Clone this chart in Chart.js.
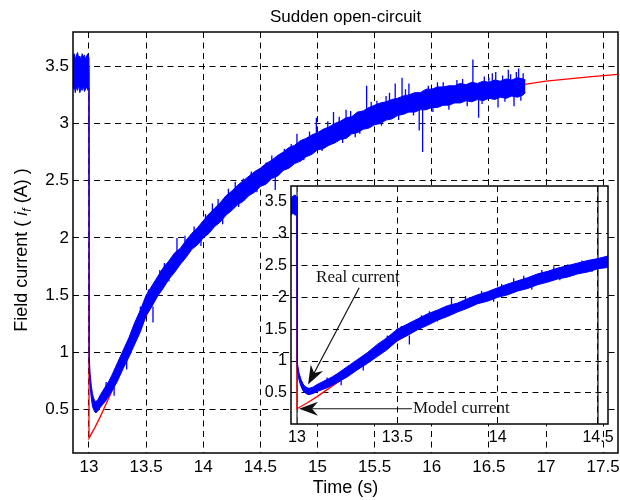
<!DOCTYPE html>
<html>
<head>
<meta charset="utf-8">
<script src="https://cdn.jsdelivr.net/npm/chart.js@4.4.1/dist/chart.umd.min.js"></script>
<style>
  html, body { margin: 0; padding: 0; background: #fff; }
  #wrap { position: relative; width: 620px; height: 500px; }
  #mainChart { position: absolute; left: 0; top: 0; }
  #insetChart { position: absolute; left: 240px; top: 180px; }
</style>
</head>
<body>
<div id="wrap">
  <canvas id="mainChart" width="620" height="500"></canvas>
  <canvas id="insetChart" width="378" height="270"></canvas>
</div>
<script>
// measured field current: upper / lower edge of the noisy band (A)
const realTime = [
  12.86, 12.87, 12.88, 12.89, 12.90, 12.91, 12.92, 12.93, 12.94, 12.95, 12.96, 12.97, 12.98, 12.99, 13.00,
  13.002, 13.01, 13.02, 13.03, 13.04, 13.05, 13.06, 13.07, 13.08, 13.10, 13.125, 13.15, 13.175, 13.20,
  13.25, 13.30, 13.35, 13.40, 13.45, 13.50, 13.55, 13.60, 13.65, 13.70, 13.75, 13.80, 13.85, 13.90, 13.95,
  14.00, 14.05, 14.10, 14.15, 14.20, 14.25, 14.30, 14.35, 14.40, 14.45, 14.50, 14.55, 14.60, 14.65, 14.70, 14.75, 14.80, 14.85, 14.90, 14.95,
  15.00, 15.05, 15.10, 15.15, 15.20, 15.25, 15.30, 15.35, 15.40, 15.45, 15.50, 15.55, 15.60, 15.65, 15.70, 15.75, 15.80, 15.85, 15.90, 15.95,
  16.00, 16.05, 16.10, 16.15, 16.20, 16.25, 16.30, 16.35, 16.40, 16.45, 16.50, 16.55, 16.60, 16.65, 16.70, 16.75, 16.80, 16.82
];
const realUpper = [
  3.58, 3.61, 3.56, 3.60, 3.62, 3.57, 3.59, 3.55, 3.61, 3.58, 3.60, 3.56, 3.59, 3.61, 3.57,
  0.96, 0.81, 0.71, 0.64, 0.60, 0.58, 0.57, 0.58, 0.59, 0.63, 0.67, 0.71, 0.75, 0.80,
  0.91, 1.02, 1.13, 1.26, 1.37, 1.50, 1.58, 1.66, 1.74, 1.80, 1.87, 1.91, 1.98, 2.04, 2.09,
  2.15, 2.21, 2.26, 2.31, 2.37, 2.41, 2.46, 2.50, 2.54, 2.58, 2.61, 2.65, 2.68, 2.72, 2.75, 2.79, 2.81, 2.85, 2.87, 2.90,
  2.92, 2.95, 2.97, 3.00, 3.02, 3.05, 3.06, 3.10, 3.11, 3.14, 3.16, 3.18, 3.19, 3.21, 3.22, 3.24, 3.25, 3.27, 3.27, 3.30,
  3.30, 3.32, 3.32, 3.33, 3.33, 3.35, 3.34, 3.36, 3.35, 3.37, 3.36, 3.38, 3.37, 3.39, 3.38, 3.40, 3.39, 3.38
];
const realLower = [
  3.30, 3.33, 3.27, 3.32, 3.29, 3.34, 3.27, 3.31, 3.29, 3.33, 3.28, 3.30, 3.32, 3.29, 3.31,
  0.86, 0.70, 0.60, 0.53, 0.50, 0.48, 0.47, 0.48, 0.49, 0.52, 0.55, 0.58, 0.62, 0.66,
  0.75, 0.86, 0.96, 1.07, 1.18, 1.32, 1.40, 1.49, 1.56, 1.64, 1.70, 1.77, 1.83, 1.90, 1.94,
  2.00, 2.04, 2.10, 2.14, 2.20, 2.24, 2.29, 2.32, 2.37, 2.40, 2.45, 2.47, 2.52, 2.54, 2.59, 2.61, 2.65, 2.67, 2.71, 2.73,
  2.77, 2.78, 2.81, 2.83, 2.86, 2.87, 2.91, 2.92, 2.95, 2.96, 2.99, 3.00, 3.03, 3.04, 3.07, 3.08, 3.10, 3.10, 3.12, 3.12,
  3.14, 3.14, 3.16, 3.16, 3.18, 3.18, 3.20, 3.19, 3.21, 3.20, 3.22, 3.21, 3.23, 3.22, 3.24, 3.23, 3.25, 3.27
];

// large isolated spikes in the measurement
const spikeTime = [13.45, 13.56, 13.62, 13.77, 13.92, 14.08, 14.22, 14.35, 14.55, 14.63, 14.71, 14.82, 14.99, 15.09, 15.14, 15.25, 15.33, 15.43, 15.52, 15.60, 15.68, 15.74, 15.80, 15.89, 15.92, 16.05, 16.22, 16.36, 16.41, 16.46, 16.53, 16.58, 16.62, 16.67, 16.72, 16.76, 16.80];
const spikeBase = [1.30, 1.40, 1.62, 1.80, 1.98, 2.18, 2.30, 2.42, 2.56, 2.58, 2.68, 2.74, 2.86, 2.90, 2.92, 2.97, 3.00, 3.05, 3.08, 3.11, 3.13, 3.15, 3.17, 3.19, 3.19, 3.22, 3.25, 3.27, 3.27, 3.29, 3.29, 3.30, 3.30, 3.31, 3.31, 3.32, 3.32];
const spikeTip  = [1.40, 1.26, 1.72, 2.00, 2.10, 2.30, 2.43, 2.52, 2.66, 2.42, 2.78, 2.91, 3.05, 3.02, 3.10, 3.12, 2.88, 3.33, 3.20, 3.24, 3.35, 3.40, 3.35, 2.94, 2.75, 3.36, 3.38, 3.56, 3.05, 3.41, 3.44, 3.14, 3.42, 3.47, 3.15, 3.48, 3.44];

// small noise excursions past the band edges
const noiseTime = [13.15, 13.22, 13.28, 13.33, 13.38, 13.52, 13.66, 13.70, 13.84, 13.98, 14.02, 14.13, 14.17, 14.28, 14.31, 14.42, 14.47, 14.60, 14.66, 14.77, 14.88, 14.93, 15.04, 15.19, 15.22, 15.29, 15.37, 15.47, 15.56, 15.63, 15.71, 15.77, 15.84, 15.97, 16.01, 16.10, 16.15, 16.27, 16.31, 16.44, 16.50, 16.56, 16.64, 16.69, 16.74, 16.78];
const noiseBase = [0.65, 0.72, 0.85, 0.93, 1.05, 1.42, 1.66, 1.72, 1.90, 2.05, 2.08, 2.20, 2.23, 2.36, 2.38, 2.46, 2.50, 2.60, 2.63, 2.70, 2.78, 2.80, 2.86, 2.93, 2.94, 2.98, 3.02, 3.05, 3.09, 3.12, 3.14, 3.16, 3.18, 3.21, 3.22, 3.24, 3.24, 3.26, 3.27, 3.28, 3.29, 3.29, 3.30, 3.31, 3.31, 3.32];
const noiseTip  = [0.74, 0.62, 0.96, 0.85, 1.17, 1.55, 1.78, 1.62, 2.02, 1.93, 2.21, 2.34, 2.12, 2.49, 2.27, 2.58, 2.40, 2.72, 2.55, 2.82, 2.68, 2.93, 2.76, 3.06, 2.83, 3.11, 2.91, 3.19, 2.98, 3.27, 3.03, 3.30, 3.07, 3.33, 3.10, 3.36, 3.12, 3.39, 3.15, 3.17, 3.40, 3.45, 3.19, 3.43, 3.45, 3.20];

// model field current (A)
const modelTime = [12.86, 13.0, 13.0, 13.05, 13.1, 13.15, 13.2, 13.3, 13.4, 13.5, 13.6, 13.7, 13.8, 13.9, 14.0, 14.2, 14.4, 14.6, 14.8, 15.0, 15.2, 15.4, 15.6, 15.8, 16.0, 16.2, 16.4, 16.6, 16.8, 17.0, 17.2, 17.4, 17.63];
const modelCurrent = [3.50, 3.50, 0.25, 0.34, 0.44, 0.55, 0.66, 0.88, 1.10, 1.32, 1.50, 1.66, 1.80, 1.93, 2.04, 2.24, 2.42, 2.57, 2.70, 2.81, 2.91, 2.99, 3.06, 3.13, 3.18, 3.23, 3.27, 3.30, 3.34, 3.37, 3.39, 3.41, 3.43];

// axes
const mainXTicks = [13, 13.5, 14, 14.5, 15, 15.5, 16, 16.5, 17, 17.5];
const mainYTicks = [0.5, 1, 1.5, 2, 2.5, 3, 3.5];
const insetXTicks = [13, 13.5, 14, 14.5];
const insetYTicks = [0.5, 1, 1.5, 2, 2.5, 3, 3.5];
const mainXRange = [12.86, 17.63];
const mainYRange = [0.12, 3.8];
const insetXRange = [12.97, 14.55];
const insetYRange = [0.01, 3.75];
const insetMarkTime = [13, 14.5];

const sans = "'Liberation Sans', Arial, Helvetica, sans-serif";
const serif = "'Liberation Serif', 'Times New Roman', serif";

const pts = (xs, ys) => xs.map((x, i) => ({ x: x, y: ys[i] }));
const segments = (ts, from, to) => ts.flatMap((t, i) => [{ x: t, y: from[i] }, { x: t, y: to[i] }, { x: t, y: null }]);

function signalDatasets() {
    return [
        { label: 'Real current (upper)', data: pts(realTime, realUpper), borderColor: '#0000ff', borderWidth: 1, pointRadius: 0, fill: false },
        { label: 'Real current (lower)', data: pts(realTime, realLower), borderColor: '#0000ff', borderWidth: 1, pointRadius: 0, fill: '-1', backgroundColor: '#0000ff' },
        { label: 'Real current spikes', data: segments(spikeTime, spikeBase, spikeTip), borderColor: '#0000ff', borderWidth: 1.3, pointRadius: 0, fill: false },
        { label: 'Real current noise', data: segments(noiseTime, noiseBase, noiseTip), borderColor: '#0000ff', borderWidth: 1.3, pointRadius: 0, fill: false },
        { label: 'Model current', data: pts(modelTime, modelCurrent), borderColor: '#ff0000', borderWidth: 1.3, pointRadius: 0, fill: false }
    ];
}

function fixedTicks(values) {
    return scale => { scale.ticks = values.map(v => ({ value: v })); };
}

function axisOptions(range, ticks, fontSize, fit, extra) {
    return Object.assign({
        type: 'linear',
        min: range[0],
        max: range[1],
        afterBuildTicks: fixedTicks(ticks),
        afterFit: fit,
        grid: { color: '#000', lineWidth: 1, drawTicks: false },
        border: { display: false, dash: [6, 4.5] },
        ticks: { color: '#000', font: { family: sans, size: fontSize }, padding: 4, autoSkip: false, maxRotation: 0, callback: v => String(v) }
    }, extra || {});
}

// black box round the plot area
const boxPlugin = {
    id: 'box',
    afterDraw(chart) {
        const a = chart.chartArea, ctx = chart.ctx;
        ctx.save();
        ctx.strokeStyle = '#000';
        ctx.lineWidth = 1.5;
        ctx.strokeRect(a.left, a.top, a.right - a.left, a.bottom - a.top);
        ctx.restore();
    }
};

// y label with subscript
const yLabelPlugin = {
    id: 'yLabel',
    afterDraw(chart) {
        const ctx = chart.ctx;
        const parts = [
            ['Field current ( ', '18px ' + sans, 0],
            ['i', 'italic 18px ' + sans, 0],
            ['f', 'italic 12px ' + sans, 4],
            [' (A) )', '18px ' + sans, 0]
        ];
        ctx.save();
        let total = 0;
        parts.forEach(p => { ctx.font = p[1]; p.push(ctx.measureText(p[0]).width); total += p[3]; });
        ctx.translate(27, 250);
        ctx.rotate(-Math.PI / 2);
        ctx.fillStyle = '#000';
        ctx.textBaseline = 'alphabetic';
        let x = -total / 2;
        parts.forEach(p => { ctx.font = p[1]; ctx.fillText(p[0], x, p[2]); x += p[3]; });
        ctx.restore();
    }
};

// white plot area for the inset
const insetBackground = {
    id: 'insetBg',
    beforeDraw(chart) {
        const a = chart.chartArea, ctx = chart.ctx;
        ctx.save();
        ctx.fillStyle = '#fff';
        ctx.fillRect(a.left, a.top, a.right - a.left, a.bottom - a.top);
        ctx.restore();
    }
};

// text arrows in the inset
const insetNotes = [
    { text: 'Real current', at: [13.095, 2.31], from: [13.31, 2.15], to: [13.055, 0.63] },
    { text: 'Model current', at: [13.578, 0.25], from: [13.573, 0.25], to: [13.01, 0.25] }
];

function drawArrow(ctx, x1, y1, x2, y2) {
    const ang = Math.atan2(y2 - y1, x2 - x1);
    const len = 19, half = 7, notch = 6;
    const dx = Math.cos(ang), dy = Math.sin(ang);
    const bx = x2 - len * dx, by = y2 - len * dy;
    const nx = x2 - (len - notch) * dx, ny = y2 - (len - notch) * dy;
    ctx.beginPath();
    ctx.moveTo(x1, y1);
    ctx.lineTo(nx, ny);
    ctx.stroke();
    ctx.beginPath();
    ctx.moveTo(x2, y2);
    ctx.lineTo(bx - half * dy, by + half * dx);
    ctx.lineTo(nx, ny);
    ctx.lineTo(bx + half * dy, by - half * dx);
    ctx.closePath();
    ctx.fill();
}

const notesPlugin = {
    id: 'notes',
    afterDatasetsDraw(chart) {
        const ctx = chart.ctx, sx = chart.scales.x, sy = chart.scales.y;
        ctx.save();
        ctx.fillStyle = '#111';
        ctx.strokeStyle = '#111';
        ctx.lineWidth = 1.2;
        ctx.font = '17px ' + serif;
        ctx.textBaseline = 'middle';
        insetNotes.forEach(n => {
            ctx.fillText(n.text, sx.getPixelForValue(n.at[0]), sy.getPixelForValue(n.at[1]));
            drawArrow(ctx, sx.getPixelForValue(n.from[0]), sy.getPixelForValue(n.from[1]),
                sx.getPixelForValue(n.to[0]), sy.getPixelForValue(n.to[1]));
        });
        ctx.restore();
    }
};

const common = {
    responsive: false,
    animation: false,
    events: [],
    plugins: { legend: { display: false }, tooltip: { enabled: false } }
};

new Chart(document.getElementById('mainChart'), {
    type: 'line',
    data: { datasets: signalDatasets() },
    options: Object.assign({}, common, {
        layout: { padding: { left: 0, right: 2, top: 0, bottom: 0 } },
        plugins: {
            legend: { display: false },
            tooltip: { enabled: false },
            title: {
                display: true, text: 'Sudden open-circuit', fullSize: false, color: '#000',
                font: { family: sans, size: 17, weight: 'normal' }, padding: { top: 7, bottom: 4.6 }
            }
        },
        scales: {
            x: axisOptions(mainXRange, mainXTicks, 17, s => { s.height = 47; s.paddingLeft = 0; s.paddingRight = 0; }, {
                title: { display: true, text: 'Time (s)', color: '#000', font: { family: sans, size: 18 }, padding: { top: 0, bottom: 1 } }
            }),
            y: axisOptions(mainYRange, mainYTicks, 17, s => { s.width = 73; s.paddingTop = 0; s.paddingBottom = 0; })
        }
    }),
    plugins: [boxPlugin, yLabelPlugin]
});

const insetDatasets = signalDatasets().concat([
    { label: 'Step instant', data: [{ x: insetMarkTime[0], y: insetYRange[0] }, { x: insetMarkTime[0], y: insetYRange[1] }], borderColor: '#555', borderWidth: 1.6, pointRadius: 0, fill: false },
    { label: 'Window end', data: [{ x: insetMarkTime[1], y: insetYRange[0] }, { x: insetMarkTime[1], y: insetYRange[1] }], borderColor: '#000', borderWidth: 1.2, pointRadius: 0, fill: false }
]);

new Chart(document.getElementById('insetChart'), {
    type: 'line',
    data: { datasets: insetDatasets },
    options: Object.assign({}, common, {
        layout: { padding: { left: 0, right: 10, top: 6, bottom: 0 } },
        scales: {
            x: axisOptions(insetXRange, insetXTicks, 16, s => { s.height = 26; s.paddingLeft = 0; s.paddingRight = 0; }),
            y: axisOptions(insetYRange, insetYTicks, 16, s => { s.width = 51; s.paddingTop = 0; s.paddingBottom = 0; })
        }
    }),
    plugins: [insetBackground, boxPlugin, notesPlugin]
});
</script>
</body>
</html>
